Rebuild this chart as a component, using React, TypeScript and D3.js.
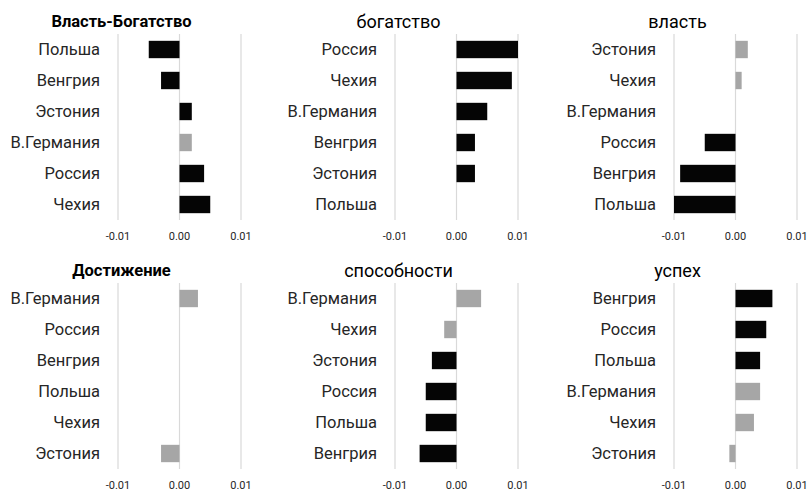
import React from "react";
import * as d3 from "d3";

const titles = ["Власть-Богатство", "богатство", "власть", "Достижение", "способности", "успех"];
const boldTitles = [true, false, false, true, false, false];

const cats1 = ["Польша", "Венгрия", "Эстония", "В.Германия", "Россия", "Чехия"];
const vals1 = [-0.005, -0.003, 0.002, 0.002, 0.004, 0.005];
const sig1 = [true, true, true, false, true, true];

const cats2 = ["Россия", "Чехия", "В.Германия", "Венгрия", "Эстония", "Польша"];
const vals2 = [0.01, 0.009, 0.005, 0.003, 0.003, 0];
const sig2 = [true, true, true, true, true, true];

const cats3 = ["Эстония", "Чехия", "В.Германия", "Россия", "Венгрия", "Польша"];
const vals3 = [0.002, 0.001, 0, -0.005, -0.009, -0.01];
const sig3 = [false, false, true, true, true, true];

const cats4 = ["В.Германия", "Россия", "Венгрия", "Польша", "Чехия", "Эстония"];
const vals4 = [0.003, 0, 0, 0, 0, -0.003];
const sig4 = [false, false, false, false, false, false];

const cats5 = ["В.Германия", "Чехия", "Эстония", "Россия", "Польша", "Венгрия"];
const vals5 = [0.004, -0.002, -0.004, -0.005, -0.005, -0.006];
const sig5 = [false, false, true, true, true, true];

const cats6 = ["Венгрия", "Россия", "Польша", "В.Германия", "Чехия", "Эстония"];
const vals6 = [0.006, 0.005, 0.004, 0.004, 0.003, -0.001];
const sig6 = [true, true, true, false, false, false];

const tickValues = [-0.01, 0, 0.01];
const tickLabels = ["-0.01", "0.00", "0.01"];

const panels = [
  { cats: cats1, vals: vals1, sig: sig1 },
  { cats: cats2, vals: vals2, sig: sig2 },
  { cats: cats3, vals: vals3, sig: sig3 },
  { cats: cats4, vals: vals4, sig: sig4 },
  { cats: cats5, vals: vals5, sig: sig5 },
  { cats: cats6, vals: vals6, sig: sig6 },
];

const colOffsets = [0, 277, 556];
const rowOffsets = [0, 249];
const FONT = "Roboto, 'Noto Sans', sans-serif";

function Panel({ idx }: { idx: number }) {
  const p = panels[idx];
  const ox = colOffsets[idx % 3];
  const oy = rowOffsets[Math.floor(idx / 3)];
  const x = d3.scaleLinear().domain([-0.01, 0.01]).range([118, 241]);
  const y = d3.scaleBand<string>().domain(p.cats).range([34, 220]).paddingInner(0.44).paddingOuter(0.22);
  return (
    <g transform={`translate(${ox},${oy})`}>
      <text x={121.5} y={21} textAnchor="middle" dominantBaseline="central"
        fontSize={boldTitles[idx] ? 16.5 : 18} fontWeight={boldTitles[idx] ? 700 : 400}
        fill="#000" fontFamily={FONT}>{titles[idx]}</text>
      {tickValues.map((t) => (
        <line key={t} x1={x(t)} x2={x(t)} y1={34} y2={220} stroke="#d9d9d9" strokeWidth={1.2} />
      ))}
      {p.cats.map((c, i) => {
        const v = p.vals[i];
        const y0 = y(c)!;
        return (
          <g key={c}>
            {v !== 0 && (
              <rect x={Math.min(x(v), x(0))} y={y0} width={Math.abs(x(v) - x(0))} height={y.bandwidth()}
                fill={p.sig[i] ? "#050505" : "#a6a6a6"} />
            )}
            <text x={100} y={y0 + y.bandwidth() / 2} textAnchor="end" dominantBaseline="central"
              fontSize={16.5} fill="#262626" fontFamily={FONT}>{c}</text>
          </g>
        );
      })}
      {tickValues.map((t, i) => (
        <text key={t} x={x(t)} y={236} textAnchor="middle" dominantBaseline="central"
          fontSize={11} fill="#262626" fontFamily={FONT}>{tickLabels[i]}</text>
      ))}
    </g>
  );
}

export default function App() {
  return (
    <svg width={812} height={491} style={{ position: "absolute", left: 0, top: 0, background: "#fff" }}>
      <rect width={812} height={491} fill="#fff" />
      {panels.map((_, i) => <Panel key={i} idx={i} />)}
    </svg>
  );
}
